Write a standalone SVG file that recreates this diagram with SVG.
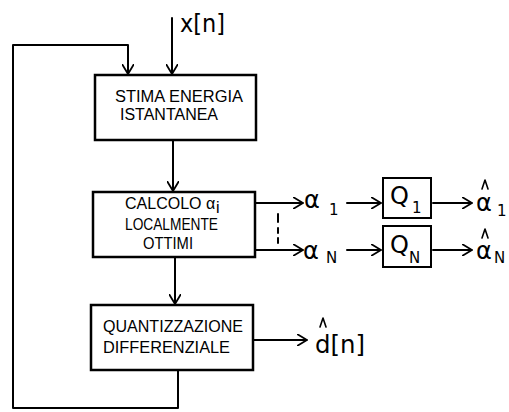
<svg xmlns="http://www.w3.org/2000/svg" width="509" height="412" viewBox="0 0 509 412">
<style>
.box{fill:#fff;stroke:#000;stroke-width:2.5}
.ln{fill:none;stroke:#000;stroke-width:2;stroke-linecap:round;stroke-linejoin:round}
.t{font-family:"Liberation Sans","DejaVu Sans",sans-serif;font-size:16px;fill:#000}
.lb{font-family:"DejaVu Sans","Liberation Sans",sans-serif;font-size:24px;fill:#000}
.sb{font-family:"DejaVu Sans","Liberation Sans",sans-serif;font-size:15px;fill:#000}
.hat{fill:none;stroke:#000;stroke-width:1.6;stroke-linecap:round;stroke-linejoin:round}
</style>
<defs>
<marker id="ah" viewBox="0 0 10 12" refX="10" refY="6" markerWidth="10" markerHeight="12" markerUnits="userSpaceOnUse" orient="auto">
<path d="M0,0 L10,6 L0,12" fill="none" stroke="#000" stroke-width="1.8"/>
</marker>
</defs>
<g id="connectors">
<path class="ln" d="M178,370 V408 H13 V45 H128 V74" marker-end="url(#ah)"/>
<path class="ln" d="M172,18 V74" marker-end="url(#ah)"/>
<path class="ln" d="M173,140 V191" marker-end="url(#ah)"/>
<path class="ln" d="M175,257 V304" marker-end="url(#ah)"/>
<path class="ln" d="M255,203 H303" marker-end="url(#ah)"/>
<path class="ln" d="M255,250 H303" marker-end="url(#ah)"/>
<path class="ln" d="M278,214 V222 M278,228 V233 M278,238 V243"/>
<path class="ln" d="M347,203 H381" marker-end="url(#ah)"/>
<path class="ln" d="M347,250 H381" marker-end="url(#ah)"/>
<path class="ln" d="M433,203 H472" marker-end="url(#ah)"/>
<path class="ln" d="M433,250 H472" marker-end="url(#ah)"/>
<path class="ln" d="M253,340 H307" marker-end="url(#ah)"/>
</g>
<g id="input">
<text class="lb" x="180" y="32" textLength="45" lengthAdjust="spacingAndGlyphs">x[n]</text>
</g>
<g id="stima">
<rect class="box" x="95" y="75" width="161" height="65"/>
<text class="t" x="115" y="102" textLength="128" lengthAdjust="spacingAndGlyphs">STIMA ENERGIA</text>
<text class="t" x="120" y="120" textLength="98" lengthAdjust="spacingAndGlyphs">ISTANTANEA</text>
</g>
<g id="calcolo">
<rect class="box" x="93" y="192" width="162" height="65"/>
<text class="t" x="125" y="209" font-size="14.5">CALCOLO α</text>
<text class="t" x="216" y="213" font-size="10">i</text>
<text class="t" x="125" y="230" textLength="93" lengthAdjust="spacingAndGlyphs">LOCALMENTE</text>
<text class="t" x="143" y="249" textLength="50" lengthAdjust="spacingAndGlyphs">OTTIMI</text>
</g>
<g id="quant">
<rect class="box" x="91" y="305" width="162" height="65"/>
<text class="t" x="103" y="332" textLength="140" lengthAdjust="spacingAndGlyphs">QUANTIZZAZIONE</text>
<text class="t" x="103" y="353" textLength="127" lengthAdjust="spacingAndGlyphs">DIFFERENZIALE</text>
</g>
<g id="alpha1">
<text class="lb" x="304" y="208">α</text>
<text class="sb" x="329" y="215">1</text>
</g>
<g id="alphaN">
<text class="lb" x="303" y="259">α</text>
<text class="sb" x="326" y="263">N</text>
</g>
<g id="q1">
<rect class="box" x="383" y="178" width="48" height="40" style="stroke-width:2"/>
<text class="lb" x="390" y="204">Q</text>
<text class="sb" x="412" y="213">1</text>
</g>
<g id="qN">
<rect class="box" x="383" y="226" width="48" height="41" style="stroke-width:2"/>
<text class="lb" x="390" y="253">Q</text>
<text class="sb" x="409" y="263">N</text>
</g>
<g id="ahat1">
<text class="lb" x="476" y="211">α</text>
<path class="hat" d="M482,189 L485,180 L488,189"/>
<text class="sb" x="497" y="216">1</text>
</g>
<g id="ahatN">
<text class="lb" x="476" y="259">α</text>
<path class="hat" d="M482,238 L485,229 L488,238"/>
<text class="sb" x="494" y="263">N</text>
</g>
<g id="dhat">
<text class="lb" x="315" y="353" textLength="50" lengthAdjust="spacingAndGlyphs" font-size="28">d[n]</text>
<path class="hat" d="M320,327 L323,318 L326,327"/>
</g>
</svg>
